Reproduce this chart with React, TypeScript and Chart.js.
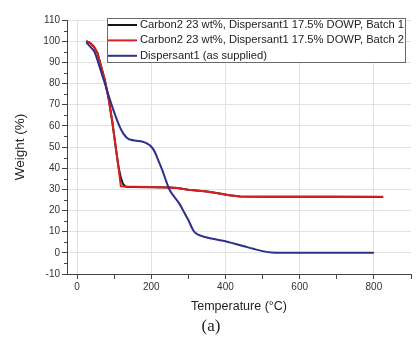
import React, { useEffect, useRef } from 'react';
import { Chart, registerables } from 'chart.js';

Chart.register(...registerables);

// ---- data ----
const seriesLabels = [
  'Carbon2 23 wt%, Dispersant1 17.5% DOWP, Batch 1',
  'Carbon2 23 wt%, Dispersant1 17.5% DOWP, Batch 2',
  'Dispersant1 (as supplied)',
];

const batch1Temp = [25, 35, 45, 55, 65, 75, 85, 95, 105, 112, 118, 124, 130, 136, 150, 200, 250, 270, 300, 350, 380, 410, 440, 500, 600, 700, 825];
const batch1Weight = [100, 99.2, 97.5, 94.5, 88, 81.5, 73, 62, 49, 40.5, 35.5, 32.5, 31.4, 31.1, 31.1, 31.0, 30.9, 30.6, 29.8, 29.0, 28.2, 27.2, 26.6, 26.5, 26.5, 26.5, 26.4];

const batch2Temp = [25, 35, 45, 55, 65, 75, 85, 95, 105, 112, 118, 125, 150, 200, 250, 270, 300, 350, 380, 410, 440, 500, 600, 700, 825];
const batch2Weight = [100, 99.2, 97.5, 94.5, 88, 81.5, 73, 62, 49, 40, 31.5, 31.3, 31.2, 31.1, 30.9, 30.6, 29.8, 29.0, 28.2, 27.2, 26.6, 26.5, 26.5, 26.5, 26.5];

const dispTemp = [25, 35, 47, 57, 66, 75, 84, 93, 103, 114, 125, 135, 145, 160, 175, 188, 201, 210, 219, 230, 240, 250, 262, 275, 286, 300, 313, 322, 335, 350, 375, 400, 425, 450, 475, 500, 525, 550, 650, 800];
const dispWeight = [99.5, 97.5, 95, 90, 85, 80, 75, 70, 65, 60, 56.3, 54.3, 53.4, 53, 52.6, 51.7, 50, 47.5, 43.7, 39, 34, 29.6, 26.5, 23.5, 20, 15.5, 10.7, 9, 8, 7.2, 6.3, 5.5, 4.3, 3.1, 1.9, 0.8, 0.1, 0, 0, 0];

const xTickValues = [0, 100, 200, 300, 400, 500, 600, 700, 800, 900];
const xLabelValues = [0, 200, 400, 600, 800];
const yTickValues = [-10, -5, 0, 5, 10, 15, 20, 25, 30, 35, 40, 45, 50, 55, 60, 65, 70, 75, 80, 85, 90, 95, 100, 105, 110];
const yLabelValues = [-10, 0, 10, 20, 30, 40, 50, 60, 70, 80, 90, 100, 110];

const xTitle = 'Temperature (°C)';
const yTitle = 'Weight (%)';
const panelLabel = '(a)';

const seriesColors = ['#161616', '#d8201c', '#2c2f8c'];

const toPoints = (xs: number[], ys: number[]) => xs.map((x, i) => ({ x, y: ys[i] }));

const FONT = "'Liberation Sans', Arial, sans-serif";

const boxLegendPlugin = {
  id: 'boxLegend',
  afterDraw(chart: any) {
    const { ctx, chartArea } = chart;
    const right = chartArea.right - 5;
    const top = chartArea.top - 2;
    const w = 299;
    const rowH = 15.4;
    const h = 45;
    const left = right - w;
    ctx.save();
    ctx.fillStyle = '#ffffff';
    ctx.fillRect(left, top, w, h);
    ctx.strokeStyle = '#6a6a6a';
    ctx.lineWidth = 1;
    ctx.strokeRect(left + 0.5, top + 0.5, w - 1, h - 1);
    ctx.font = `11.2px ${FONT}`;
    ctx.textBaseline = 'middle';
    ctx.textAlign = 'left';
    chart.data.datasets.forEach((ds: any, i: number) => {
      const cy = top + 7 + i * rowH;
      ctx.strokeStyle = ds.borderColor;
      ctx.lineWidth = 2;
      ctx.beginPath();
      ctx.moveTo(left + 1, cy);
      ctx.lineTo(left + 30, cy);
      ctx.stroke();
      ctx.fillStyle = '#222';
      ctx.fillText(ds.label, left + 33, cy);
    });
    ctx.restore();
  },
};

const minorTickPlugin = {
  id: 'minorTicks',
  afterDraw(chart: any) {
    const { ctx, scales } = chart;
    const y = scales.y;
    ctx.save();
    ctx.strokeStyle = '#444';
    ctx.lineWidth = 1;
    ctx.beginPath();
    yTickValues
      .filter((v) => !yLabelValues.includes(v))
      .forEach((v) => {
        const py = Math.round(y.getPixelForValue(v)) + 0.5;
        ctx.moveTo(y.right - 3, py);
        ctx.lineTo(y.right, py);
      });
    ctx.stroke();
    ctx.restore();
  },
};

const panelLabelPlugin = {
  id: 'panelLabel',
  afterDraw(chart: any) {
    const { ctx } = chart;
    ctx.save();
    ctx.font = "17px 'Liberation Serif', 'Times New Roman', serif";
    ctx.fillStyle = '#222';
    ctx.textAlign = 'center';
    ctx.textBaseline = 'middle';
    ctx.fillText(panelLabel, chart.width / 2 + 3, 327);
    ctx.restore();
  },
};

export default function App() {
  const canvasRef = useRef<HTMLCanvasElement | null>(null);

  useEffect(() => {
    if (!canvasRef.current) return;
    const chart = new Chart(canvasRef.current, {
      type: 'scatter',
      data: {
        datasets: [
          { label: seriesLabels[0], data: toPoints(batch1Temp, batch1Weight), borderColor: seriesColors[0], order: 2 },
          { label: seriesLabels[1], data: toPoints(batch2Temp, batch2Weight), borderColor: seriesColors[1], order: 1 },
          { label: seriesLabels[2], data: toPoints(dispTemp, dispWeight), borderColor: seriesColors[2], order: 0, cubicInterpolationMode: 'monotone' },
        ].map((d: any) => ({
          ...d,
          showLine: true,
          pointRadius: 0,
          borderWidth: 2,
          backgroundColor: d.borderColor,
          tension: 0,
        })),
      },
      options: {
        responsive: false,
        animation: false,
        layout: { padding: { top: 20, right: 5, left: 0, bottom: 0 } },
        plugins: {
          legend: { display: false },
          tooltip: { enabled: false },
        },
        scales: {
          x: {
            type: 'linear',
            min: -27,
            max: 900,
            afterBuildTicks: (scale: any) => {
              scale.ticks = xTickValues.map((v) => ({ value: v }));
            },
            afterFit: (scale: any) => {
              scale.height = 66;
            },
            ticks: {
              autoSkip: false,
              maxRotation: 0,
              padding: 2,
              color: '#333',
              font: { family: FONT, size: 10 },
              callback: (v: any) => (xLabelValues.includes(Number(v)) ? String(v) : ''),
            },
            grid: {
              color: (c: any) => (c.tick && xLabelValues.includes(c.tick.value) ? '#e2e2e2' : 'rgba(0,0,0,0)'),
              tickColor: '#444',
              tickLength: 5,
            },
            border: { color: '#444', width: 1 },
            title: {
              display: true,
              text: xTitle,
              color: '#222',
              font: { family: FONT, size: 12.5 },
              padding: { top: 0, bottom: 26 },
            },
          },
          y: {
            type: 'linear',
            min: -10,
            max: 110,
            afterBuildTicks: (scale: any) => {
              scale.ticks = yTickValues.map((v) => ({ value: v }));
            },
            afterFit: (scale: any) => {
              scale.width = 67;
            },
            ticks: {
              autoSkip: false,
              padding: 2,
              color: '#333',
              font: { family: FONT, size: 10 },
              callback: (v: any) => (yLabelValues.includes(Number(v)) ? String(v) : ''),
            },
            grid: {
              color: (c: any) => (c.tick && yLabelValues.includes(c.tick.value) ? '#e2e2e2' : 'rgba(0,0,0,0)'),
              tickColor: (c: any) => (c.tick && yLabelValues.includes(c.tick.value) ? '#444' : 'rgba(0,0,0,0)'),
              tickLength: 5,
            },
            border: { color: '#444', width: 1 },
            title: {
              display: true,
              text: yTitle,
              color: '#222',
              font: { family: FONT, size: 13.5 },
              padding: { top: 12, bottom: 0 },
            },
          },
        },
      },
      plugins: [boxLegendPlugin, minorTickPlugin, panelLabelPlugin],
    } as any);
    return () => chart.destroy();
  }, []);

  return (
    <div style={{ position: 'fixed', left: 0, top: 0, width: 416, height: 340, background: '#fff' }}>
      <canvas ref={canvasRef} width={416} height={340} style={{ width: 416, height: 340, display: 'block' }} />
    </div>
  );
}
